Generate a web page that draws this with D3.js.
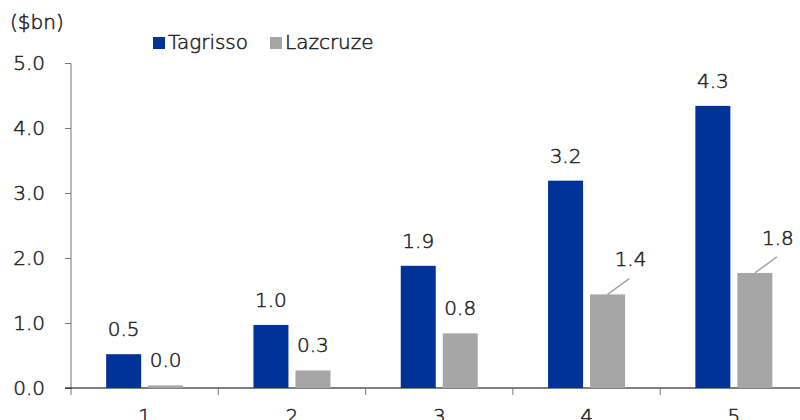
<!DOCTYPE html>
<html>
<head>
<meta charset="utf-8">
<script src="https://cdn.jsdelivr.net/npm/d3@7"></script>
<style>
  body { margin: 0; background: #fff; }
  svg { display: block; font-family: "DejaVu Sans", sans-serif; font-weight: 200; }
  svg text { fill: #222; stroke: #222; stroke-width: 0.5px; }
</style>
</head>
<body>
<div id="chart"></div>
<script>
(function() {
  'use strict'

  // data //
  var years = ["1", "2", "3", "4", "5"]
  var seriesNames = ["Tagrisso", "Lazcruze"]
  var tagrisso = [0.52, 0.97, 1.88, 3.19, 4.34]
  var lazcruze = [0.04, 0.27, 0.84, 1.44, 1.77]
  var yTicks = [0, 1, 2, 3, 4, 5]

  var colors = { Tagrisso: "#00339a", Lazcruze: "#a6a6a6" }

  var width = 800,
    height = 420

  var svg = d3.select("#chart").append("svg")
    .attr("width", width)
    .attr("height", height)

  // scales //
  var x = d3.scaleBand()
    .domain(years)
    .range([71, 71 + 147.3 * years.length])

  var xInner = d3.scaleBand()
    .domain(seriesNames)
    .range([0, x.bandwidth()])
    .paddingInner(0.1667)
    .paddingOuter(0.837)

  var y = d3.scaleLinear()
    .domain([0, 5])
    .range([388, 63])

  // y axis //
  var yAxis = svg.append("g")
    .attr("transform", "translate(71,0)")
    .call(d3.axisLeft(y).tickValues(yTicks).tickFormat(d3.format(".1f")).tickSize(6).tickPadding(20))
    .attr("font-family", null)
    .attr("font-size", 20)
  yAxis.select(".domain").attr("stroke", "#777").attr("d", "M-6,63.5H0V395")
  yAxis.selectAll(".tick line").attr("stroke", "#777")

  // x axis //
  var xAxis = svg.append("g")
    .attr("transform", "translate(0,388)")
  xAxis.append("line")
    .attr("x1", 65).attr("x2", width)
    .attr("stroke", "#000").attr("stroke-width", 1.2)
  xAxis.selectAll(".sep")
    .data(years)
    .enter().append("line")
    .attr("class", "sep")
    .attr("x1", function(d) { return x(d) + x.bandwidth() })
    .attr("x2", function(d) { return x(d) + x.bandwidth() })
    .attr("y1", 0).attr("y2", 7)
    .attr("stroke", "#777")
  xAxis.selectAll(".xl")
    .data(years)
    .enter().append("text")
    .attr("class", "xl")
    .attr("x", function(d) { return x(d) + x.bandwidth() / 2 })
    .attr("y", 35)
    .attr("text-anchor", "middle")
    .attr("font-size", 20)
    .text(function(d) { return d })

  // bars //
  var rows = years.map(function(yr, i) {
    return { year: yr, values: [
      { key: "Tagrisso", value: tagrisso[i] },
      { key: "Lazcruze", value: lazcruze[i] }
    ] }
  })

  var groups = svg.selectAll(".grp")
    .data(rows)
    .enter().append("g")
    .attr("class", "grp")
    .attr("transform", function(d) { return "translate(" + x(d.year) + ",0)" })

  groups.selectAll("rect")
    .data(function(d) { return d.values })
    .enter().append("rect")
    .attr("x", function(d) { return xInner(d.key) })
    .attr("width", xInner.bandwidth())
    .attr("y", function(d) { return y(d.value) })
    .attr("height", function(d) { return y(0) - y(d.value) })
    .attr("fill", function(d) { return colors[d.key] })

  // value labels, the tall gray ones get pushed right with a leader line
  var fmt = d3.format(".1f")
  function shifted(d, i) { return d.key === "Lazcruze" && d.value > 1.2 }

  groups.selectAll(".lead")
    .data(function(d) { return d.values.filter(shifted) })
    .enter().append("line")
    .attr("class", "lead")
    .attr("x1", function(d) { return xInner(d.key) + xInner.bandwidth() / 2 })
    .attr("y1", function(d) { return y(d.value) })
    .attr("x2", function(d) { return xInner(d.key) + xInner.bandwidth() / 2 + 22 })
    .attr("y2", function(d) { return y(d.value) - 16 })
    .attr("stroke", "#a6a6a6")
    .attr("stroke-width", 1.5)

  groups.selectAll(".val")
    .data(function(d) { return d.values })
    .enter().append("text")
    .attr("class", "val")
    .attr("x", function(d) { return xInner(d.key) + xInner.bandwidth() / 2 + (shifted(d) ? 23 : 0) })
    .attr("y", function(d) { return y(d.value) - (shifted(d) ? 28 : 18) })
    .attr("text-anchor", "middle")
    .attr("font-size", 20)
    .text(function(d) { return fmt(d.value) })

  // unit label //
  svg.append("text")
    .attr("x", 10).attr("y", 29)
    .attr("font-size", 20)
    .text("($bn)")

  // legend //
  var legendX = [153, 270]
  var legend = svg.selectAll(".leg")
    .data(seriesNames)
    .enter().append("g")
    .attr("class", "leg")
    .attr("transform", function(d, i) { return "translate(" + legendX[i] + ",37)" })
  legend.append("rect")
    .attr("width", 12).attr("height", 12)
    .attr("fill", function(d) { return colors[d] })
  legend.append("text")
    .attr("x", 15).attr("y", 12)
    .attr("font-size", 20)
    .text(function(d) { return d })
})()
</script>
</body>
</html>
